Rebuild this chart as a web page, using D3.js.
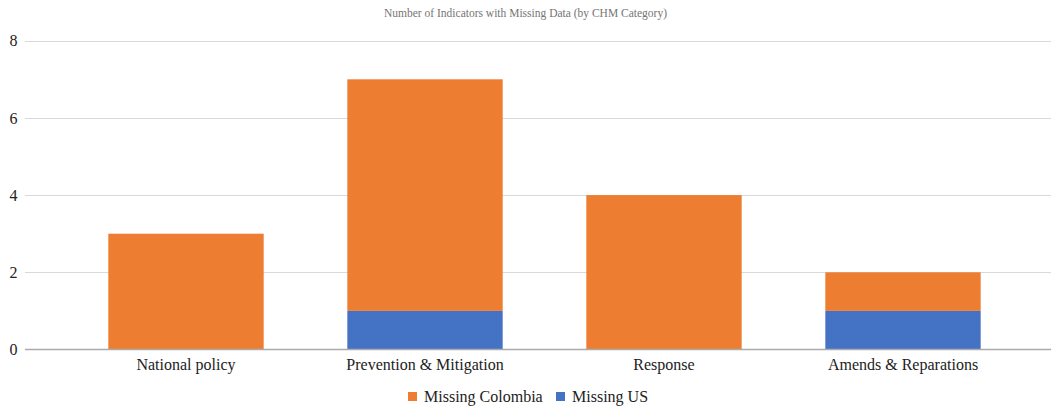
<!DOCTYPE html>
<html>
<head>
<meta charset="utf-8">
<script src="https://cdn.jsdelivr.net/npm/d3@7"></script>
<style>
  html, body { margin: 0; padding: 0; background: #fff; }
  svg { display: block; }
  text { font-family: "Liberation Serif", "Times New Roman", serif; }
</style>
</head>
<body>
<svg id="chart" width="1051" height="406"></svg>
<script>
// Categories and series values
const categories = ["National policy", "Prevention & Mitigation", "Response", "Amends & Reparations"];
const missingUS = [0, 1, 0, 1];
const missingColombia = [3, 6, 4, 1];
const yTicks = [0, 2, 4, 6, 8];
const seriesNames = ["Missing Colombia", "Missing US"];
const seriesColors = ["#ED7D31", "#4472C4"];
const title = "Number of Indicators with Missing Data (by CHM Category)";

const svg = d3.select("#chart");
const W = 1051, H = 406;
const gridLeft = 25, gridRight = 1051;
const plotTop = 40.7, plotBottom = 349.5;

const x = d3.scaleBand()
  .domain(categories)
  .range([66.5, 1022.5])
  .paddingInner(0.35)
  .paddingOuter(0.175);

const y = d3.scaleLinear().domain([0, 8]).range([plotBottom, plotTop]);

// Title
svg.append("text")
  .attr("x", W / 2)
  .attr("y", 17)
  .attr("text-anchor", "middle")
  .attr("font-size", 11.5)
  .attr("fill", "#757575")
  .text(title);

// Gridlines
svg.append("g")
  .selectAll("line")
  .data(yTicks.filter(d => d !== 0))
  .join("line")
  .attr("x1", gridLeft)
  .attr("x2", gridRight)
  .attr("y1", d => Math.round(y(d)) + 0.5)
  .attr("y2", d => Math.round(y(d)) + 0.5)
  .attr("stroke", "#d9d9d9")
  .attr("stroke-width", 1);

// Y axis tick labels
const yAxis = d3.axisLeft(y).tickValues(yTicks).tickSize(0).tickPadding(0);
const yg = svg.append("g").attr("transform", "translate(17.5,0)").call(yAxis);
yg.select(".domain").remove();
yg.selectAll("text")
  .attr("font-size", 16)
  .attr("fill", "#222");

// Stacked bars
const rows = categories.map((c, i) => ({ cat: c, us: missingUS[i], col: missingColombia[i] }));
const stack = d3.stack().keys(["us", "col"])(rows);
const colorByKey = { us: seriesColors[1], col: seriesColors[0] };

svg.append("g")
  .selectAll("g")
  .data(stack)
  .join("g")
  .attr("fill", d => colorByKey[d.key])
  .selectAll("rect")
  .data(d => d.filter(s => s[1] - s[0] > 0))
  .join("rect")
  .attr("x", d => x(d.data.cat))
  .attr("width", x.bandwidth())
  .attr("y", d => y(d[1]))
  .attr("height", d => y(d[0]) - y(d[1]));

// Baseline
svg.append("line")
  .attr("x1", gridLeft)
  .attr("x2", gridRight)
  .attr("y1", y(0))
  .attr("y2", y(0))
  .attr("stroke", "#aaaaaa")
  .attr("stroke-width", 1.6);

// X axis labels
const xAxis = d3.axisBottom(x).tickSize(0).tickPadding(0);
const xg = svg.append("g").attr("transform", `translate(0,${plotBottom + 9})`).call(xAxis);
xg.select(".domain").remove();
xg.selectAll("text")
  .attr("font-size", 16)
  .attr("fill", "#222");

// Legend
const legend = svg.append("g").attr("transform", "translate(0,397)");
const legendItems = [
  { name: seriesNames[0], color: seriesColors[0], x: 408 },
  { name: seriesNames[1], color: seriesColors[1], x: 556 }
];
const li = legend.selectAll("g").data(legendItems).join("g")
  .attr("transform", d => `translate(${d.x},0)`);
li.append("rect")
  .attr("x", 0).attr("y", -5)
  .attr("width", 9).attr("height", 9)
  .attr("fill", d => d.color);
li.append("text")
  .attr("x", 16)
  .attr("y", 5)
  .attr("font-size", 16)
  .attr("fill", "#222")
  .text(d => d.name);
</script>
</body>
</html>
